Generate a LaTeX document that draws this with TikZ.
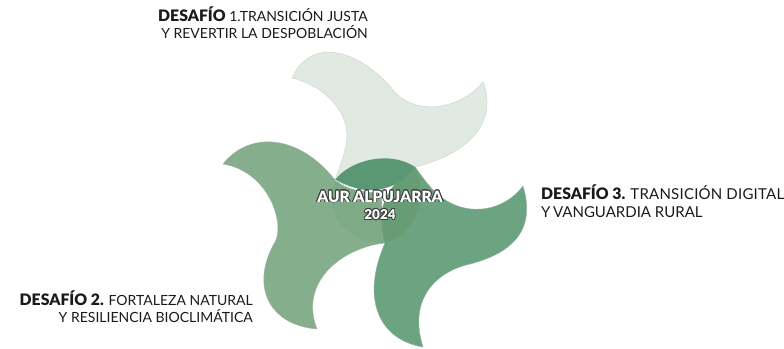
\documentclass[tikz,border=0pt]{standalone}
\usepackage{fontspec}
\usepackage[copies]{contour}
\setmainfont{Lato}[BoldFont={Lato Black}]
\definecolor{bladeA}{HTML}{E0EAE2}
\definecolor{bladeB}{HTML}{85AE8D}
\definecolor{bladeC}{HTML}{6CA481}
\definecolor{sectorA}{HTML}{5A9873}
\definecolor{sectorB}{HTML}{7FAA86}
\definecolor{sectorC}{HTML}{679C75}
\definecolor{inkdark}{HTML}{1A1A1A}
\contourlength{0.8pt}
\contournumber{16}
\newcommand{\retohead}[1]{{\fontsize{15.8}{17}\selectfont\bfseries #1}}
\begin{document}
\begin{tikzpicture}[x=1pt, y=-1pt,
	main/.style = {font=\fontsize{14}{17}\selectfont, text=inkdark, inner sep=0pt},
	centre/.style = {font=\fontsize{15.5}{18}\selectfont\bfseries, text=white, inner sep=0pt, align=center},
	blade/.style = {draw=#1!75!black!60!white, line width=0.4pt, fill=#1}]
	\useasboundingbox (0,0) rectangle (784,348);
	\coordinate (p1) at (335,180);
	\coordinate (p2) at (415,167);
	\coordinate (p3) at (385,243);
	% light blade, top
	\draw[blade=bladeA] (292,78) .. controls (312,34) and (362,52) .. (393,90)
		.. controls (413,115) and (458,112) .. (483,82)
		.. controls (497,118) and (475,152) .. (p2)
		.. controls (395,195) and (360,195) .. (p1)
		.. controls (340,165) and (347,150) .. (347,135)
		.. controls (347,108) and (320,84) .. (292,78) -- cycle;
	% middle blade, left
	\draw[blade=bladeB] (223,164) .. controls (250,130) and (300,135) .. (p1)
		.. controls (345,190) and (365,193) .. (381,193)
		-- (p3)
		.. controls (345,247) and (298,280) .. (317,329)
		.. controls (268,325) and (250,285) .. (275,242)
		.. controls (285,225) and (270,172) .. (223,164) -- cycle;
	% dark blade, right
	\draw[blade=bladeC] (p2) .. controls (425,180) and (432,192) .. (447,201)
		.. controls (470,215) and (503,212) .. (523,186)
		.. controls (538,235) and (505,255) .. (470,264)
		.. controls (435,272) and (408,300) .. (423,347)
		.. controls (380,340) and (360,300) .. (p3)
		.. controls (378,218) and (378,192) .. (p2) -- cycle;
	% overlap in the middle
	\fill[sectorB] (p1) .. controls (322,215) and (350,245) .. (p3)
		.. controls (378,218) and (378,192) .. (381,193)
		.. controls (365,193) and (345,190) .. (p1) -- cycle;
	\fill[sectorC] (p2) .. controls (428,190) and (420,232) .. (p3)
		.. controls (378,218) and (378,192) .. (p2) -- cycle;
	\fill[sectorA] (p1) .. controls (350,160) and (390,150) .. (p2)
		.. controls (395,195) and (360,195) .. (p1) -- cycle;
	\draw[white!70!bladeA, line width=0.5pt] (p1) .. controls (343,184) and (350,187) .. (358,189);
	% labels
	\node[main, anchor=north east, align=right] (reto1) at (368,7) {\retohead{DESAFÍO} 1.TRANSICIÓN JUSTA\\Y REVERTIR LA DESPOBLACIÓN};
	\node[main, anchor=north west, align=left, font=\fontsize{15}{18}\selectfont] (reto3) at (541,185) {\retohead{DESAFÍO 3.} {\addfontfeature{LetterSpace=1.5}TRANSICIÓN DIGITAL}\\Y\,VANGUARDIA RURAL};
	\node[main, anchor=north east, align=right] (reto2) at (253,291) {\retohead{DESAFÍO 2.} FORTALEZA NATURAL\\Y RESILIENCIA BIOCLIMÁTICA};
	\node[centre] (aur) at (380,197) {\contour{black!75}{AUR ALPUJARRA}};
	\node[centre, font=\fontsize{13.5}{14}\selectfont\bfseries] (year) at (380,215) {\contour{black!75}{2024}};
\end{tikzpicture}
\end{document}
